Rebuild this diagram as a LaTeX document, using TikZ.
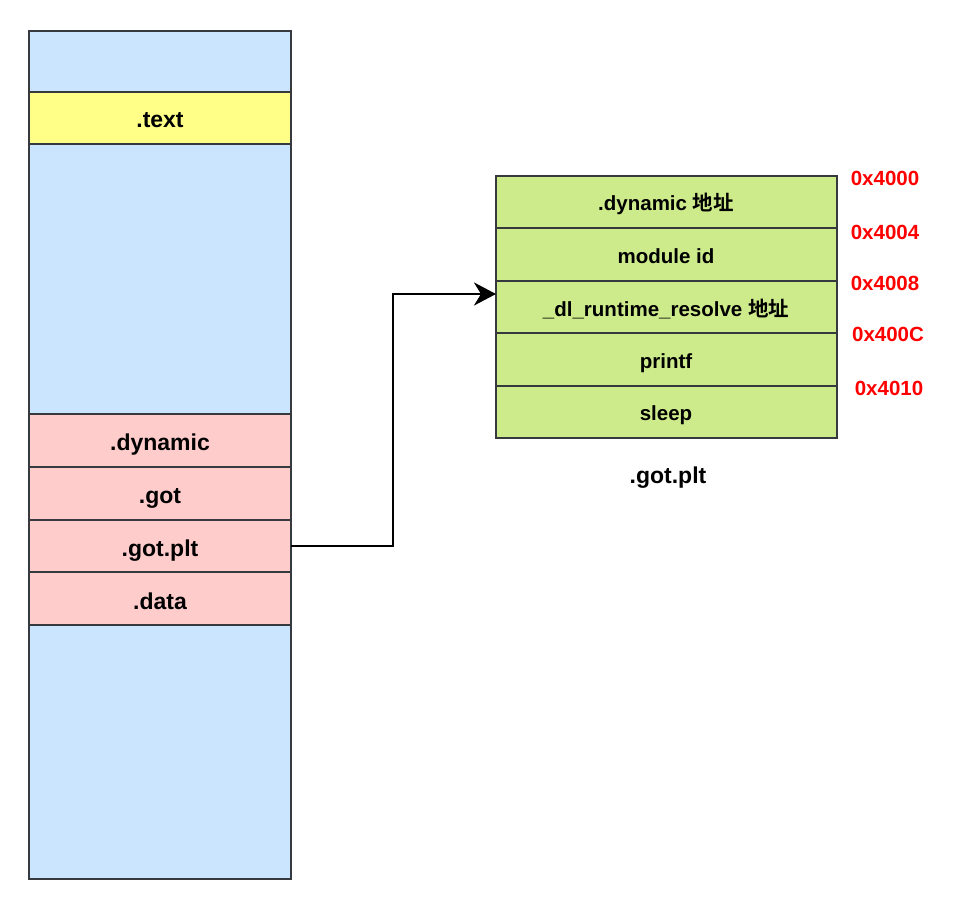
\documentclass[tikz,border=0pt]{standalone}
\usepackage{fontspec}
\setmainfont{Liberation Sans}
\newfontfamily\cjk{Noto Sans CJK SC}[BoldFont={Noto Sans CJK SC Bold}]
\usetikzlibrary{arrows.meta}
\definecolor{blueF}{HTML}{CCE5FF}
\definecolor{yellowF}{HTML}{FFFF88}
\definecolor{pinkF}{HTML}{FFCCCC}
\definecolor{greenF}{HTML}{CDEB8B}
\definecolor{edgeC}{HTML}{36393D}
\definecolor{redT}{HTML}{FF0000}
\begin{document}
\begin{tikzpicture}[x=1pt,y=-1pt,
  cell/.style={draw=edgeC,line width=2.2pt,inner sep=0pt,outer sep=0pt},
  lbig/.style={font=\fontsize{23}{26}\selectfont\bfseries},
  lsmall/.style={font=\fontsize{20.5}{24}\selectfont\bfseries},
  addr/.style={text=redT,font=\fontsize{20.5}{24}\selectfont\bfseries},
  link/.style={draw=black,line width=2.8pt,-{Stealth[length=22pt,width=23pt,inset=7pt]}}]
\useasboundingbox (0,0) rectangle (955,906);
% left column
\path[cell,fill=blueF] (29,31) rectangle (291,92);
\path[cell,fill=yellowF] (29,92) rectangle (291,144);
\path[cell,fill=blueF] (29,144) rectangle (291,414);
\path[cell,fill=pinkF] (29,414) rectangle (291,467);
\path[cell,fill=pinkF] (29,467) rectangle (291,520);
\path[cell,fill=pinkF] (29,520) rectangle (291,572);
\path[cell,fill=pinkF] (29,572) rectangle (291,625);
\path[cell,fill=blueF] (29,625) rectangle (291,879);
\node[lbig] (text) at (160,120) {.text};
\node[lbig] (dyn) at (160,445) {.dynamic};
\node[lbig] (got) at (160,498) {.got};
\node[lbig] (gotplt) at (160,551) {.got.plt};
\node[lbig] (data) at (160,601) {.data};
\coordinate (gpR) at (291,546);
% right table
\path[cell,fill=greenF] (496,176) rectangle (837,228);
\path[cell,fill=greenF] (496,228) rectangle (837,281);
\path[cell,fill=greenF] (496,281) rectangle (837,333);
\path[cell,fill=greenF] (496,333) rectangle (837,386);
\path[cell,fill=greenF] (496,386) rectangle (837,438);
\node[lsmall] (r1) at (666,204) {.dynamic {\cjk\bfseries 地址}};
\node[lsmall] (r2) at (666,256) {module id};
\node[lsmall] (r3) at (666,309) {\_dl\_runtime\_resolve {\cjk\bfseries 地址}};
\node[lsmall] (r4) at (666,363) {printf};
\node[lsmall] (r5) at (666,415) {sleep};
\coordinate (r3L) at (496,294);
\node[lbig] (cap) at (668,478) {.got.plt};
\node[addr] (a1) at (885,178) {0x4000};
\node[addr] (a2) at (885,232) {0x4004};
\node[addr] (a3) at (885,283) {0x4008};
\node[addr] (a4) at (888,334) {0x400C};
\node[addr] (a5) at (889,388) {0x4010};
% connector
\draw[link] (gpR) -- (393,546) -- (393,294) -- (r3L);
\end{tikzpicture}
\end{document}
